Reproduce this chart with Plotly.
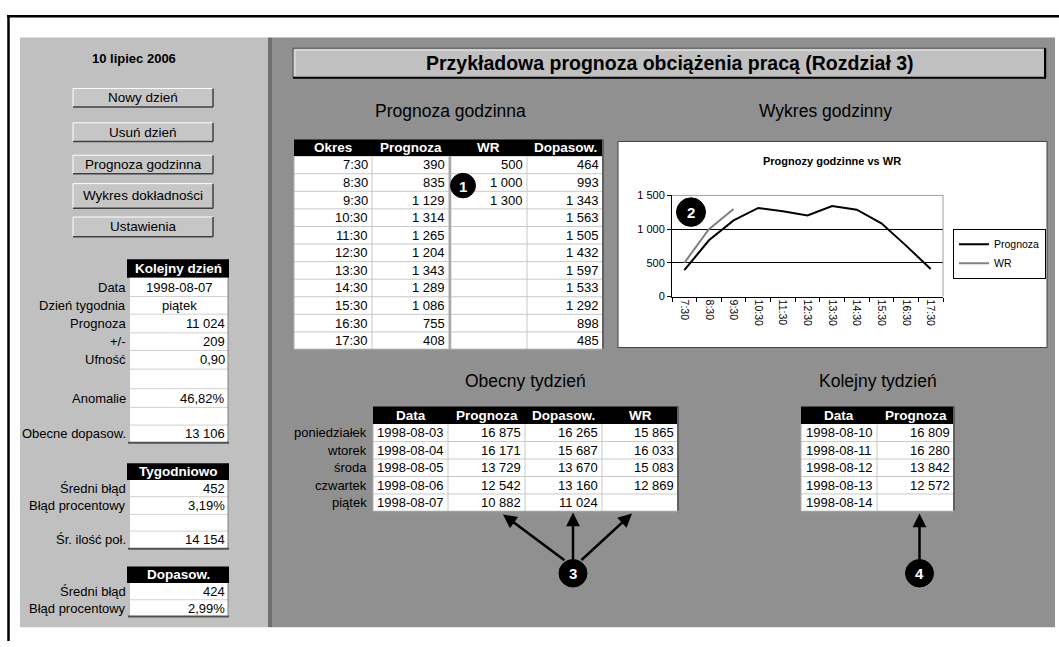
import plotly.graph_objects as go

# ---------------- DATA ----------------
data_naglowek = "10 lipiec 2006"
tytul = "Przykładowa prognoza obciążenia pracą (Rozdział 3)"
przyciski = ["Nowy dzień", "Usuń dzień", "Prognoza godzinna", "Wykres dokładności", "Ustawienia"]

kolejny_dzien_etykiety = ["Data", "Dzień tygodnia", "Prognoza", "+/-", "Ufność", "", "Anomalie", "", "Obecne dopasow."]
kolejny_dzien_wartosci = ["1998-08-07", "piątek", 11024, 209, 0.90, None, 0.4682, None, 13106]
kolejny_dzien_typy = ["c", "c", "int", "int", "dec", "", "pct", "", "int"]

tygodniowo_etykiety = ["Średni błąd", "Błąd procentowy", "", "Śr. ilość poł."]
tygodniowo_wartosci = [452, 0.0319, None, 14154]
tygodniowo_typy = ["int", "pct", "", "int"]

dopasow_etykiety = ["Średni błąd", "Błąd procentowy"]
dopasow_wartosci = [424, 0.0299]
dopasow_typy = ["int", "pct"]

okresy = ["7:30", "8:30", "9:30", "10:30", "11:30", "12:30", "13:30", "14:30", "15:30", "16:30", "17:30"]
prognoza_godz = [390, 835, 1129, 1314, 1265, 1204, 1343, 1289, 1086, 755, 408]
wr_godz = [500, 1000, 1300, None, None, None, None, None, None, None, None]
dopasow_godz = [464, 993, 1343, 1563, 1505, 1432, 1597, 1533, 1292, 898, 485]

dni_tygodnia = ["poniedziałek", "wtorek", "środa", "czwartek", "piątek"]
daty_obecny = ["1998-08-03", "1998-08-04", "1998-08-05", "1998-08-06", "1998-08-07"]
prognoza_obecny = [16875, 16171, 13729, 12542, 10882]
dopasow_obecny = [16265, 15687, 13670, 13160, 11024]
wr_obecny = [15865, 16033, 15083, 12869, None]

daty_kolejny = ["1998-08-10", "1998-08-11", "1998-08-12", "1998-08-13", "1998-08-14"]
prognoza_kolejny = [16809, 16280, 13842, 12572, None]

y_ticks = [0, 500, 1000, 1500]

# ---------------- HELPERS ----------------
W, H = 1059, 647
FONT = "Liberation Sans, Arial, sans-serif"


def px(x):
    return x / W


def py(y):
    return 1 - y / H


def fmt_int(v):
    return "" if v is None else f"{v:,}".replace(",", " ")


def fmt(v, t):
    if v is None:
        return ""
    if t == "int":
        return fmt_int(v)
    if t == "dec":
        return f"{v:.2f}".replace(".", ",")
    if t == "pct":
        return f"{v*100:.2f}%".replace(".", ",")
    return str(v)


shapes = []
annots = []


def rect(x0, y0, x1, y1, fill, line=None, lw=0, layer="below"):
    shapes.append(dict(type="rect", xref="paper", yref="paper",
                       x0=px(x0), x1=px(x1), y0=py(y1), y1=py(y0),
                       fillcolor=fill, line=dict(color=line or fill, width=lw), layer=layer))


def seg(x0, y0, x1, y1, color, width=1, layer="below"):
    shapes.append(dict(type="line", xref="paper", yref="paper",
                       x0=px(x0), x1=px(x1), y0=py(y0), y1=py(y1),
                       line=dict(color=color, width=width), layer=layer))


def txt(x, y, s, size=13, color="black", bold=False, anchor="left"):
    annots.append(dict(x=px(x), y=py(y), xref="paper", yref="paper", text=s, showarrow=False,
                       xanchor=anchor, yanchor="middle",
                       font=dict(family=FONT, size=size, color=color, weight="bold" if bold else "normal")))


def circle(cx, cy, r, label):
    shapes.append(dict(type="circle", xref="paper", yref="paper",
                       x0=px(cx - r), x1=px(cx + r), y0=py(cy + r), y1=py(cy - r),
                       fillcolor="black", line=dict(color="black", width=1), layer="above"))
    txt(cx, cy + 0.5, label, size=15, color="white", bold=True, anchor="center")


def arrow(tx, ty, sx, sy):
    annots.append(dict(x=px(tx), y=py(ty), xref="paper", yref="paper", text="",
                       showarrow=True, ax=sx - tx, ay=sy - ty, arrowhead=2, arrowsize=1.1,
                       arrowwidth=2.5, arrowcolor="black", standoff=0, startstandoff=0))


def button(x0, y0, x1, y1, label):
    rect(x0, y0, x1, y1, "#c6c6c6")
    seg(x0, y0, x1, y0, "#ffffff", 1)
    seg(x0, y0, x0, y1, "#ffffff", 1)
    seg(x0, y1, x1, y1, "#404040", 1.5)
    seg(x1, y0, x1, y1, "#404040", 1.5)
    txt((x0 + x1) / 2, (y0 + y1) / 2, label, size=13.5, anchor="center")


def grid_table(cols, header_y, row_edges, headers, columns, aligns):
    x0, x1 = cols[0], cols[-1]
    rect(x0, header_y, x1, row_edges[0], "black")
    for i, h in enumerate(headers):
        txt((cols[i] + cols[i + 1]) / 2, (header_y + row_edges[0]) / 2, h, size=13.5, color="white",
            bold=True, anchor="center")
    rect(x0, row_edges[0], x1, row_edges[-1], "white")
    for ye in row_edges[1:-1]:
        seg(x0, ye, x1, ye, "#c8c8c8", 1)
    for xe in cols[1:-1]:
        seg(xe, row_edges[0], xe, row_edges[-1], "#c8c8c8", 1)
    seg(x0, row_edges[0], x0, row_edges[-1], "#b0b0b0", 1)
    seg(x1, header_y, x1, row_edges[-1] + 1, "#606060", 2)
    seg(x0, row_edges[-1], x1 + 1, row_edges[-1], "#a0a0a0", 1.5)
    for ci, col in enumerate(columns):
        for ri, val in enumerate(col):
            yc = (row_edges[ri] + row_edges[ri + 1]) / 2
            if aligns[ci] == "right":
                txt(cols[ci + 1] - 2, yc, val, anchor="right")
            else:
                txt((cols[ci] + cols[ci + 1]) / 2, yc, val, anchor="center")


def panel_group(header, header_y, row_edges, labels, values, types):
    rect(127, header_y, 229, row_edges[0], "black")
    txt(178, (header_y + row_edges[0]) / 2, header, size=13.5, color="white", bold=True, anchor="center")
    rect(130, row_edges[0], 228, row_edges[-1], "white")
    for ye in row_edges[1:-1]:
        seg(130, ye, 228, ye, "#d0d0d0", 1)
    seg(228, row_edges[0], 228, row_edges[-1], "#808080", 1)
    seg(128, row_edges[-1], 229, row_edges[-1], "#505050", 2)
    for i, (lab, v, t) in enumerate(zip(labels, values, types)):
        yc = (row_edges[i] + row_edges[i + 1]) / 2
        if lab:
            txt(128, yc, lab, anchor="right")
        s = fmt(v, t)
        if s:
            if t == "c":
                txt(179, yc, s, anchor="center")
            else:
                txt(227, yc, s, anchor="right")


# ---------------- BACKGROUND ----------------
rect(20, 32, 268, 633, "#c0c0c0")
rect(268, 32, 272, 633, "#707070")
rect(272, 32, 1055, 633, "#909090")
seg(7, 10.5, 1059, 10.5, "black", 2.5)
seg(8.5, 9.5, 8.5, 647, "black", 2.5)

# title box
rect(293, 43, 1046, 73, "#c0c0c0", "#505050", 1)
seg(295, 45, 1043, 45, "#e8e8e8", 1)
seg(295, 45, 295, 71, "#e8e8e8", 1)
seg(1045, 43, 1045, 74, "black", 2)
seg(293, 73, 1046, 73, "black", 2)
txt(670, 58.5, tytul, size=19.5, bold=True, anchor="center")

# left panel
txt(134, 53, data_naglowek, size=13, bold=True, anchor="center")
btn_y = [(84, 103), (119, 138), (152, 171), (181, 206), (215, 235)]
for (y0, y1), lab in zip(btn_y, przyciski):
    button(73, y0, 213, y1, lab)

panel_group("Kolejny dzień", 258, [277, 296, 314, 333, 351, 370, 390, 409, 427, 445],
            kolejny_dzien_etykiety, kolejny_dzien_wartosci, kolejny_dzien_typy)
panel_group("Tygodniowo", 466, [483, 500, 518, 535, 553],
            tygodniowo_etykiety, tygodniowo_wartosci, tygodniowo_typy)
panel_group("Dopasow.", 571, [588, 605, 622],
            dopasow_etykiety, dopasow_wartosci, dopasow_typy)

# section titles
txt(450, 107, "Prognoza godzinna", size=17.5, anchor="center")
txt(825, 107, "Wykres godzinny", size=17.5, anchor="center")
txt(525, 382, "Obecny tydzień", size=17.5, anchor="center")
txt(878, 382, "Kolejny tydzień", size=17.5, anchor="center")

# hourly table
h_rows = [153 + i * (197 / 11) for i in range(12)]
grid_table([294, 372, 449, 527, 603], 136, h_rows,
           ["Okres", "Prognoza", "WR", "Dopasow."],
           [okresy, [fmt_int(v) for v in prognoza_godz], [fmt_int(v) for v in wr_godz],
            [fmt_int(v) for v in dopasow_godz]],
           ["right", "right", "right", "right"])
seg(450, 153, 450, 350, "#a8a8a8", 2.5)

# current week table
w_rows = [426 + i * (89 / 5) for i in range(6)]
grid_table([373, 448, 525, 602, 678], 408, w_rows,
           ["Data", "Prognoza", "Dopasow.", "WR"],
           [daty_obecny, [fmt_int(v) for v in prognoza_obecny], [fmt_int(v) for v in dopasow_obecny],
            [fmt_int(v) for v in wr_obecny]],
           ["center", "right", "right", "right"])
for i, d in enumerate(dni_tygodnia):
    txt(369, (w_rows[i] + w_rows[i + 1]) / 2, d, anchor="right")

# next week table
grid_table([801, 877, 954], 408, w_rows,
           ["Data", "Prognoza"],
           [daty_kolejny, [fmt_int(v) for v in prognoza_kolejny]],
           ["center", "right"])

# chart background
rect(618, 138, 1047, 348, "white", "#404040", 1)
txt(832, 158, "Prognozy godzinne vs WR", size=11, bold=True, anchor="center")

# markers and arrows
circle(463, 183, 12.5, "1")
circle(691, 210, 14.5, "2")
circle(573, 578, 14, "3")
circle(919.5, 578, 14, "4")
arrow(503, 518, 566, 565)
arrow(573, 516, 573, 564)
arrow(632, 517, 580, 565)
arrow(919.5, 517, 919.5, 564)

# ---------------- FIGURE ----------------
fig = go.Figure()
fig.add_trace(go.Scatter(x=okresy, y=prognoza_godz, mode="lines", name="Prognoza",
                         line=dict(color="black", width=2)))
fig.add_trace(go.Scatter(x=okresy[:3], y=wr_godz[:3], mode="lines", name="WR",
                         line=dict(color="#808080", width=2)))

shapes.append(dict(type="line", xref="x domain", yref="y domain", x0=0, x1=1, y0=1, y1=1,
                   line=dict(color="#a0a0a0", width=1), layer="above"))
shapes.append(dict(type="line", xref="x domain", yref="y domain", x0=1, x1=1, y0=0, y1=1,
                   line=dict(color="#a0a0a0", width=1), layer="above"))

fig.update_layout(
    width=W, height=H, autosize=False,
    margin=dict(l=0, r=0, t=0, b=0, pad=0),
    paper_bgcolor="white", plot_bgcolor="rgba(0,0,0,0)",
    shapes=shapes, annotations=annots,
    showlegend=True,
    legend=dict(x=px(953), y=py(227), xanchor="left", yanchor="top",
                bgcolor="white", bordercolor="black", borderwidth=1,
                font=dict(family=FONT, size=10.5, color="black"), tracegroupgap=0,
                itemwidth=30),
    xaxis=dict(domain=[px(672), px(943)], type="category", categoryarray=okresy,
               range=[-0.5, 10.5], showline=True, linecolor="black", linewidth=1,
               ticks="outside", ticklen=4, tickcolor="black", tickson="boundaries",
               tickangle=90, tickfont=dict(family=FONT, size=10.5, color="black"),
               showgrid=False, zeroline=False, fixedrange=True),
    yaxis=dict(domain=[py(296), py(193)], range=[0, 1500], tickvals=y_ticks,
               ticktext=[fmt_int(v) for v in y_ticks], showline=True, linecolor="black",
               linewidth=1, ticks="outside", ticklen=4, tickcolor="black",
               showgrid=True, gridcolor="black", gridwidth=1, zeroline=False,
               tickfont=dict(family=FONT, size=11, color="black"), fixedrange=True),
    hovermode=False,
)

fig.write_html("out.html", config={"displayModeBar": False},
               post_script="document.body.style.margin='0px';document.body.style.overflow='hidden';")
